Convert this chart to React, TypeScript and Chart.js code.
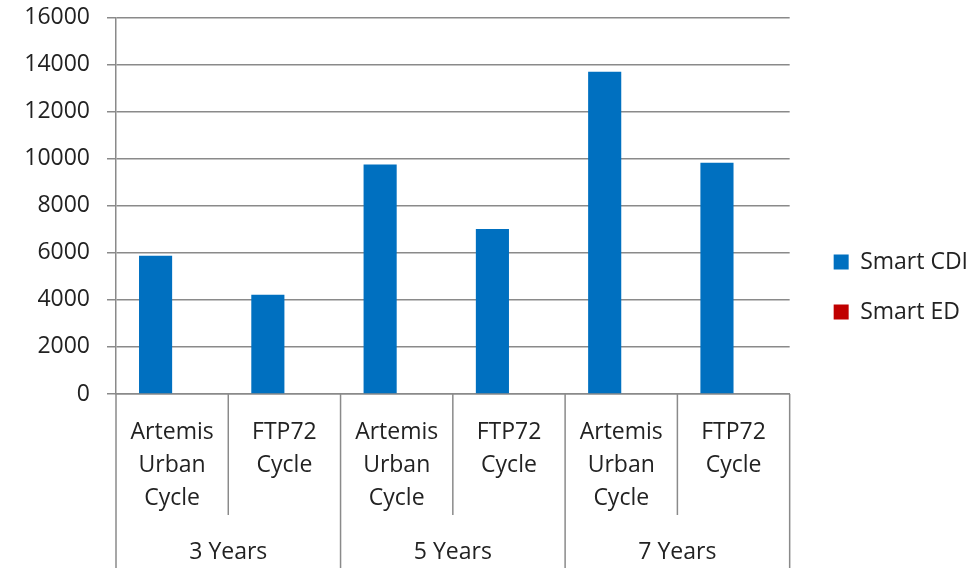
import React, { useEffect, useRef } from "react";
import { Chart, registerables } from "chart.js";

Chart.register(...registerables);

const categories: string[][] = [
  ["Artemis", "Urban", "Cycle"],
  ["FTP72", "Cycle"],
  ["Artemis", "Urban", "Cycle"],
  ["FTP72", "Cycle"],
  ["Artemis", "Urban", "Cycle"],
  ["FTP72", "Cycle"],
];
const groupLabels = ["3 Years", "5 Years", "7 Years"];
const smartCDI = [5880, 4220, 9750, 7010, 13700, 9830];
const smartED = [0, 0, 0, 0, 0, 0];
const yMin = 0;
const yMax = 16000;
const yStep = 2000;

const FONT = "'Open Sans', sans-serif";
const FSIZE = 23;
const TEXT = "#222222";
const LINE = "#8a8a8a";

const separatorPlugin = {
  id: "separators",
  afterDraw(chart: any) {
    const xs = chart.scales.x;
    const ctx = chart.ctx;
    const n = categories.length;
    const perGroup = n / groupLabels.length;
    const innerBottom = xs.bottom - 20;
    ctx.save();
    ctx.strokeStyle = LINE;
    ctx.lineWidth = 1.5;
    for (let i = 0; i <= n; i++) {
      let px: number;
      if (i === 0) px = xs.left;
      else if (i === n) px = xs.right;
      else px = (xs.getPixelForValue(i - 1) + xs.getPixelForValue(i)) / 2;
      const bottom = i % perGroup === 0 ? chart.height : innerBottom;
      ctx.beginPath();
      ctx.moveTo(px, chart.chartArea.bottom);
      ctx.lineTo(px, bottom);
      ctx.stroke();
    }
    ctx.restore();
  },
};

export default function App() {
  const ref = useRef<HTMLCanvasElement | null>(null);
  useEffect(() => {
    document.body.style.margin = "0";
    if (!ref.current) return;
    const chart = new Chart(ref.current, {
      type: "bar",
      data: {
        labels: categories as any,
        datasets: [
          {
            label: "Smart CDI",
            data: smartCDI,
            backgroundColor: "#0070C0",
            borderWidth: 0,
            categoryPercentage: 0.59,
            barPercentage: 1,
          },
          {
            label: "Smart ED",
            data: smartED,
            backgroundColor: "#C00000",
            borderWidth: 0,
            categoryPercentage: 0.59,
            barPercentage: 1,
          },
        ],
      },
      options: {
        responsive: false,
        animation: false,
        layout: { padding: { left: 10, right: 13, top: 6, bottom: 0 } },
        plugins: {
          tooltip: { enabled: false },
          legend: {
            position: "right",
            align: "center",
            labels: {
              boxWidth: 15,
              boxHeight: 15,
              padding: 27,
              color: TEXT,
              font: { family: FONT, size: FSIZE },
            },
          },
        },
        scales: {
          x: {
            type: "category",
            offset: true,
            afterFit: (s: any) => {
              s.height = 141;
            },
            grid: { display: true, drawOnChartArea: false, drawTicks: false, offset: true },
            border: { display: true, color: LINE, width: 1.5 },
            ticks: {
              padding: 22,
              color: TEXT,
              maxRotation: 0,
              autoSkip: false,
              font: { family: FONT, size: FSIZE, lineHeight: 33 / FSIZE },
            },
          },
          x2: {
            type: "category",
            position: "bottom",
            weight: 1,
            labels: groupLabels,
            offset: true,
            afterFit: (s: any) => {
              s.height = 33;
            },
            grid: { display: false, drawTicks: false },
            border: { display: false },
            ticks: {
              padding: 1,
              color: TEXT,
              maxRotation: 0,
              autoSkip: false,
              font: { family: FONT, size: FSIZE, lineHeight: 33 / FSIZE },
            },
          },
          y: {
            min: yMin,
            max: yMax,
            afterFit: (s: any) => {
              s.width = 106;
            },
            grid: { color: LINE, lineWidth: 1.5, tickLength: 9, drawTicks: true, tickColor: LINE },
            border: { display: true, color: LINE, width: 1.5 },
            ticks: {
              stepSize: yStep,
              padding: 17,
              color: TEXT,
              callback: (v: any) => String(v),
              font: { family: FONT, size: FSIZE, lineHeight: 0.05 },
            },
          },
          y2: {
            position: "right",
            display: true,
            afterFit: (s: any) => {
              s.width = 17;
            },
            grid: { display: false },
            border: { display: false },
            ticks: { display: false },
          },
        },
      },
      plugins: [separatorPlugin],
    } as any);
    return () => chart.destroy();
  }, []);
  return (
    <div style={{ width: 979, height: 568 }}>
      <canvas ref={ref} width={979} height={568} style={{ display: "block" }} />
    </div>
  );
}
